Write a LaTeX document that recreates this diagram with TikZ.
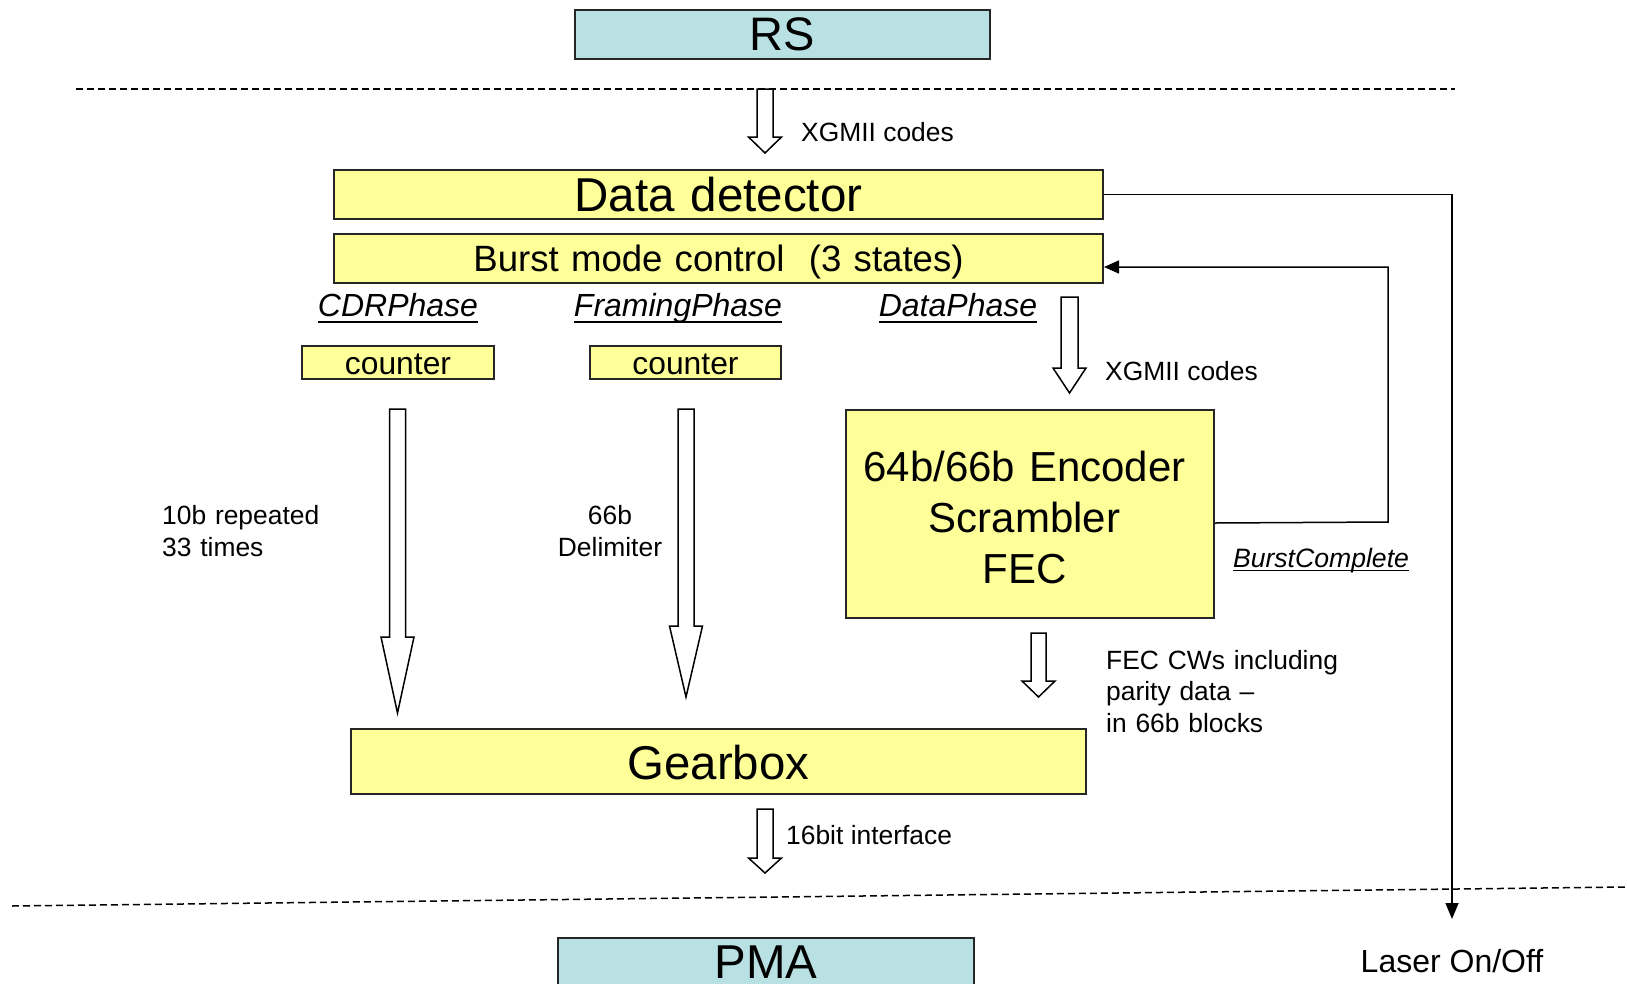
\documentclass[tikz,border=0pt]{standalone}
\usepackage{fontspec}
\setmainfont{Liberation Sans}
\usetikzlibrary{arrows.meta}
\definecolor{boxyellow}{HTML}{FFFF99}
\definecolor{boxblue}{HTML}{B9E0E3}
\newcommand\fs[2]{\fontsize{#1pt}{#2pt}\selectfont}
% hollow block arrow: centre x, top y, head start y, tip y, half shaft width, half head width
\newcommand\hollowarrow[6]{%
  \draw[hollow] (#1-#5,#2) -- (#1+#5,#2) -- (#1+#5,#3) -- (#1+#6,#3)
    -- (#1,#4) -- (#1-#6,#3) -- (#1-#5,#3) -- cycle;}
\begin{document}
\begin{tikzpicture}[x=1pt,y=-1pt,
  box/.style={draw=black!85, line width=2pt, inner sep=0pt, align=center,
              anchor=north west, fill=boxyellow},
  bluebox/.style={box, fill=boxblue},
  lbl/.style={inner sep=0pt, anchor=base},
  lblw/.style={inner sep=0pt, anchor=base west, align=left},
  hollow/.style={draw=black, line width=1.5pt, fill=white, line join=miter},
  divider/.style={line width=1.5pt, dash pattern=on 7pt off 4pt},
  conn/.style={line width=1.5pt},
  uline/.style={line width=1.8pt}]
\useasboundingbox (0,0) rectangle (1627,983);
\clip (0,0) rectangle (1627,983);

% layer boundaries
\draw[divider] (76,89) -- (1455,89);
\draw[divider] (12,906) -- (1627,887);

% blocks
\node[bluebox, text width=415pt, text height=40pt, text depth=9pt, font=\fs{47}{56}]
  (rs) at (574,9) {RS};
\node[box, text width=769pt, text height=41pt, text depth=8pt, font=\fs{47.5}{56}]
  (dd) at (333,169) {Data detector};
\node[box, text width=769pt, text height=37pt, text depth=12pt, font=\fs{36.6}{44}]
  (bmc) at (333,233) {Burst mode control\ \ (3 states)};
\node[box, text width=192pt, text height=29pt, text depth=4pt, font=\fs{31.8}{38}]
  (cnt1) at (301,344.5) {counter};
\node[box, text width=191pt, text height=29pt, text depth=4pt, font=\fs{31.8}{38}]
  (cnt2) at (589,344.5) {counter};
\node[box, text width=368pt, text height=71pt, text depth=137pt, font=\fs{42}{51}]
  (enc) at (845,409)
  {\mbox{64b/66b Encoder\kern11pt}\\\mbox{Scrambler\kern11pt}\\\mbox{FEC\kern11pt}};
\node[box, text width=735pt, text height=50pt, text depth=15pt, font=\fs{47.4}{56}]
  (gb) at (350,728) {Gearbox};
\node[bluebox, text width=416pt, text height=40pt, text depth=33pt, font=\fs{47.5}{56}]
  (pma) at (557,937) {PMA};

% phase labels
\begin{scope}[font=\itshape\fs{32}{38}]
  \node[lbl] (cdr) at (398,316.5) {CDRPhase};
  \node[lbl] (frm) at (678,316.5) {FramingPhase};
  \node[lbl] (dph) at (958,316.5) {DataPhase};
\end{scope}
\foreach \n in {cdr,frm,dph}
  \draw[uline] ([yshift=-5.5pt]\n.base west) -- ([yshift=-5.5pt]\n.base east);
\node[lbl, font=\itshape\fs{26.6}{32}] (bc) at (1321,567) {BurstComplete};
\draw[uline] ([yshift=-3.5pt]bc.base west) -- ([yshift=-3.5pt]bc.base east);

% flow annotations
\begin{scope}[font=\fs{26.4}{32}]
  \node[lblw] (xg1) at (801,141) {XGMII codes};
  \node[lblw] (xg2) at (1105,380) {XGMII codes};
  \node[lblw, text width=170pt] (rep) at (162,524.5) {10b repeated\\33 times};
  \node[lbl, text width=120pt, align=center] (dlm) at (610,524.5) {66b\\Delimiter};
  \node[lblw, text width=240pt, font=\fs{26.4}{31.5}] (cws) at (1106,669)
    {FEC CWs including\\parity data --\\in 66b blocks};
  \node[lblw] (ifc) at (786,844) {16bit interface};
\end{scope}
\node[lbl, font=\fs{32}{38}] (laser) at (1452,972) {Laser On/Off};

% hollow data-path arrows
\hollowarrow{765}{89}{137}{153}{8}{16.5}
\hollowarrow{1069.5}{297}{368}{393}{8.5}{16.5}
\hollowarrow{397.5}{409}{637}{713}{8}{16.5}
\hollowarrow{686}{409}{626}{697}{8}{16.5}
\hollowarrow{1038.5}{633}{681}{697}{7.5}{16.5}
\hollowarrow{765}{809}{858}{873}{8}{16.5}

% control lines
\coordinate (lasertip) at (1452,919);
\draw[conn, -{Triangle[length=16pt,width=13pt]}] (dd.east) -| (lasertip);
\coordinate (fbcorner) at (1388,522);
\draw[conn, -{Triangle[length=15pt,width=13pt]}]
  ([yshift=-9pt]enc.east) -- (fbcorner) |- ([yshift=-8.5pt]bmc.east);
\end{tikzpicture}
\end{document}
